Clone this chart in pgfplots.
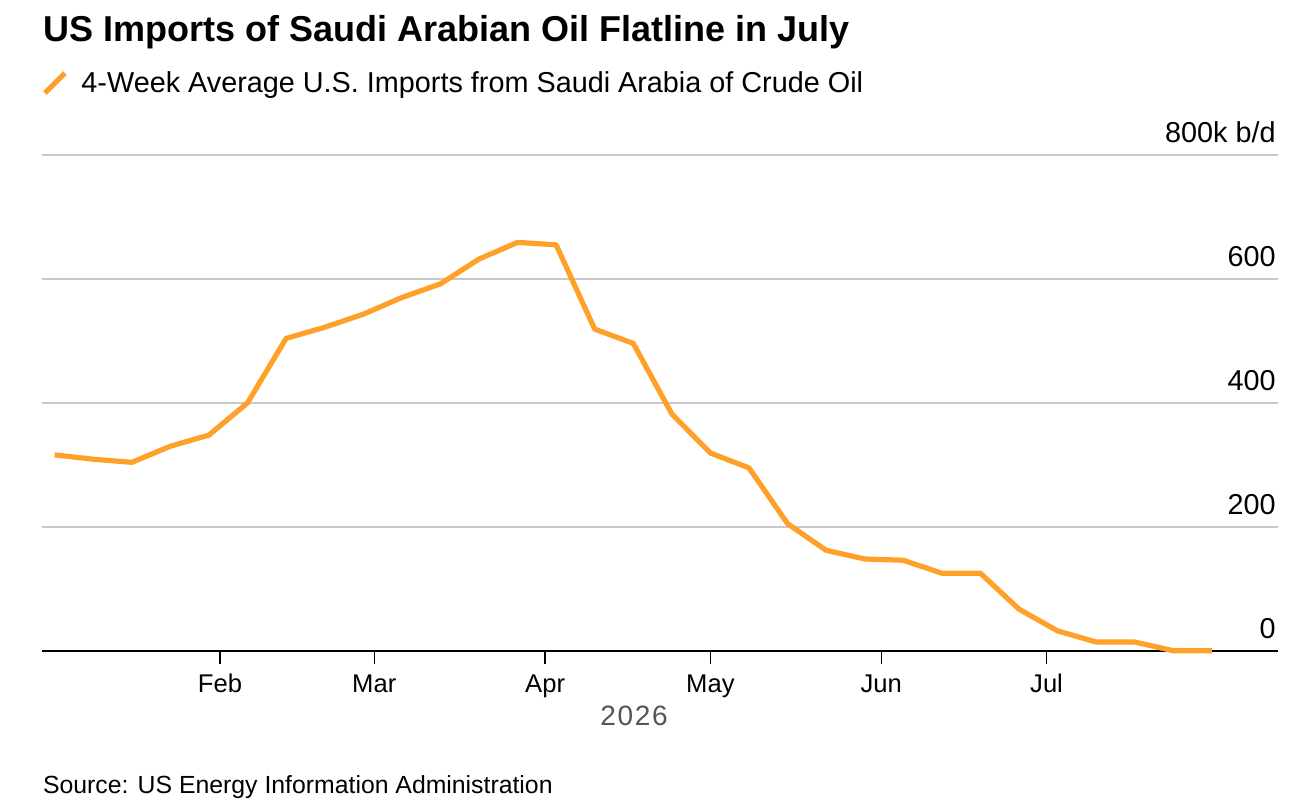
\documentclass[border=0pt]{standalone}
\usepackage{pgfplots}
\pgfplotsset{compat=1.18}
\usepackage{pgfplotstable}
\usepackage{fontspec}
\setmainfont{Liberation Sans}
\definecolor{bbOrange}{RGB}{255,161,40}
\definecolor{gridGray}{RGB}{200,200,200}
\definecolor{yearGray}{RGB}{85,85,85}

\pgfplotstableread{
day val
1 316
8 309
15 304
22 330
29 348
36 400
43 504
50 522
57 543
64 570
71 592
78 632
85 659
92 655
99 519
106 496
113 382
120 319
127 295
134 205
141 162
148 148
155 146
162 125
169 125
176 67
183 32
190 14
197 14
204 0
211 0
}\imports

\begin{document}
\begin{tikzpicture}
\useasboundingbox (0,0) rectangle (655.5bp,406bp);
\node[anchor=base west, inner sep=0pt, font=\fontsize{18bp}{20bp}\selectfont\bfseries] at (21.6bp,385.2bp) {US Imports of Saudi Arabian Oil Flatline in July};
\node[anchor=base west, inner sep=0pt, font=\fontsize{12.4bp}{14bp}\selectfont] at (21.35bp,9.5bp) {Source: US Energy Information Administration};
\begin{axis}[
  at={(21bp,80.65bp)}, anchor=south west,
  scale only axis, width=618bp, height=247.85bp,
  xmin=-1.3, xmax=223, ymin=0, ymax=800,
  clip=false,
  axis x line*=bottom, axis y line*=right,
  x axis line style={black, line width=1bp, -},
  y axis line style={draw=none},
  xtick={31,59,90,120,151,181},
  xticklabels={Feb,Mar,Apr,May,Jun,Jul},
  ytick={0,200,400,600,800},
  yticklabels={0,200,400,600,800k b/d},
  tick align=outside, major tick length=6.5bp,
  xtick style={black, line width=0.7bp},
  ytick style={draw=none},
  ymajorgrids, grid style={gridGray, line width=0.8bp},
  /pgf/number format/assume math mode=true,
  xticklabel style={font=\fontsize{12.8bp}{14bp}\selectfont, anchor=base, yshift=-14.3bp},
  yticklabel style={font=\fontsize{14.4bp}{16bp}\selectfont, anchor=base east, inner xsep=0pt, xshift=-7.5bp, yshift=6.2bp},
  xlabel={2026},
  xlabel style={at={(axis description cs:0.479,0)}, anchor=base, yshift=-37.6bp, font=\fontsize{14bp}{16bp}\selectfont\addfontfeature{LetterSpace=6}, text=yearGray},
  legend style={draw=none, fill=none, at={(axis description cs:0.0,1.145)}, anchor=west, inner sep=0pt, font=\fontsize{14.4bp}{16bp}\selectfont},
  legend cell align=left,
  legend image code/.code={\draw[bbOrange, line width=2.5bp] (0.5bp,-5bp) -- (10.5bp,5bp); \path[draw=none, fill=none] (0,0) -- (16.8bp,0);},
]
\addplot[bbOrange, line width=2.6bp, line join=round] table[x=day, y=val] {\imports};
\addlegendentry{4-Week Average U.S. Imports from Saudi Arabia of Crude Oil}
\end{axis}
\end{tikzpicture}
\end{document}
